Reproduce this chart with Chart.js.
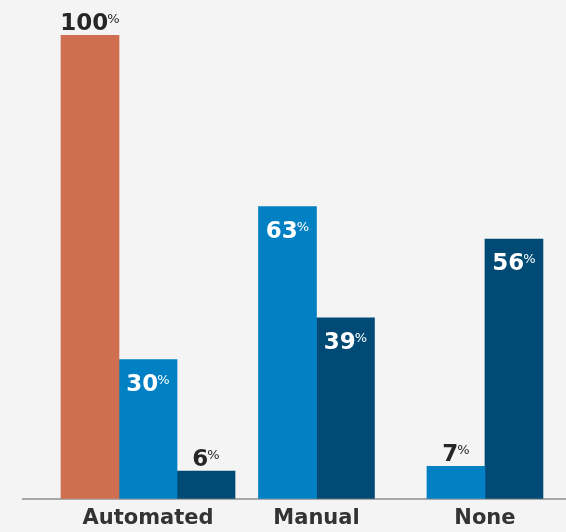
<!DOCTYPE html>
<html>
<head>
<meta charset="utf-8">
<script src="https://cdn.jsdelivr.net/npm/chart.js@4"></script>
<style>
  html, body { margin: 0; padding: 0; background: #f4f4f4; }
  #wrap { width: 566px; height: 532px; }
</style>
</head>
<body>
<div id="wrap"><canvas id="chart" width="566" height="532"></canvas></div>
<script>
const categories = ["Automated", "Manual", "None"];
const automatedShare = [100, null, null];
const manualShare = [30, 63, 7];
const noneShare = [6, 39, 56];

const FONT = "'DejaVu Sans', sans-serif";

// turn a series into {x, y} points so the bars sit on a numeric x axis
function points(values) {
  return values.map((v, i) => ({ x: i, y: v }));
}

// value labels: number plus a small raised "%"
const valueLabels = {
  id: "valueLabels",
  afterDatasetsDraw(chart) {
    const ctx = chart.ctx;
    ctx.save();
    chart.data.datasets.forEach((ds, di) => {
      const meta = chart.getDatasetMeta(di);
      meta.data.forEach((bar, i) => {
        const v = ds.data[i].y;
        if (v === null || v === undefined) return;

        const inside = !ds.labelAbove && v >= 20;
        const numFont = "bold 23px " + FONT;
        const pctFont = "13px " + FONT;
        const gap = -1;
        ctx.font = numFont;
        const num = String(v);
        const numW = ctx.measureText(num).width;
        ctx.font = pctFont;
        const pctW = ctx.measureText("%").width;

        const left = bar.x - (numW + gap + pctW) / 2;
        const baseline = inside ? bar.y + 31 : bar.y - 5;
        ctx.fillStyle = inside ? "#ffffff" : "#262626";
        ctx.textBaseline = "alphabetic";
        ctx.textAlign = "left";

        ctx.font = numFont;
        ctx.fillText(num, left, baseline);
        ctx.font = pctFont;
        ctx.fillText("%", left + numW + gap, baseline - 7);
      });
    });
    ctx.restore();
  }
};

new Chart(document.getElementById("chart"), {
  type: "bar",
  data: {
    datasets: [
      { data: points(automatedShare), backgroundColor: "#cf6f4f", labelAbove: true },
      { data: points(manualShare), backgroundColor: "#0180c3" },
      { data: points(noneShare), backgroundColor: "#004a75" }
    ]
  },
  options: {
    responsive: false,
    animation: false,
    skipNull: true,
    barThickness: 58,
    layout: { padding: { top: 35, left: 23, right: 0, bottom: -7 } },
    plugins: {
      legend: { display: false },
      tooltip: { enabled: false }
    },
    scales: {
      x: {
        type: "linear",
        offset: false,
        min: -0.742,
        max: 2.481,
        grid: { display: false, drawTicks: false, offset: false },
        border: { display: true, color: "#a8a8a8", width: 2 },
        afterBuildTicks: (scale) => {
          scale.ticks = categories.map((c, i) => ({ value: i }));
        },
        ticks: {
          autoSkip: false,
          maxRotation: 0,
          padding: 8,
          color: "#333333",
          font: { family: FONT, size: 21, weight: "bold", lineHeight: 1.15 },
          callback: (v) => categories[v]
        }
      },
      y: {
        display: false,
        min: 0,
        max: 100
      }
    }
  },
  plugins: [valueLabels]
});
</script>
</body>
</html>
